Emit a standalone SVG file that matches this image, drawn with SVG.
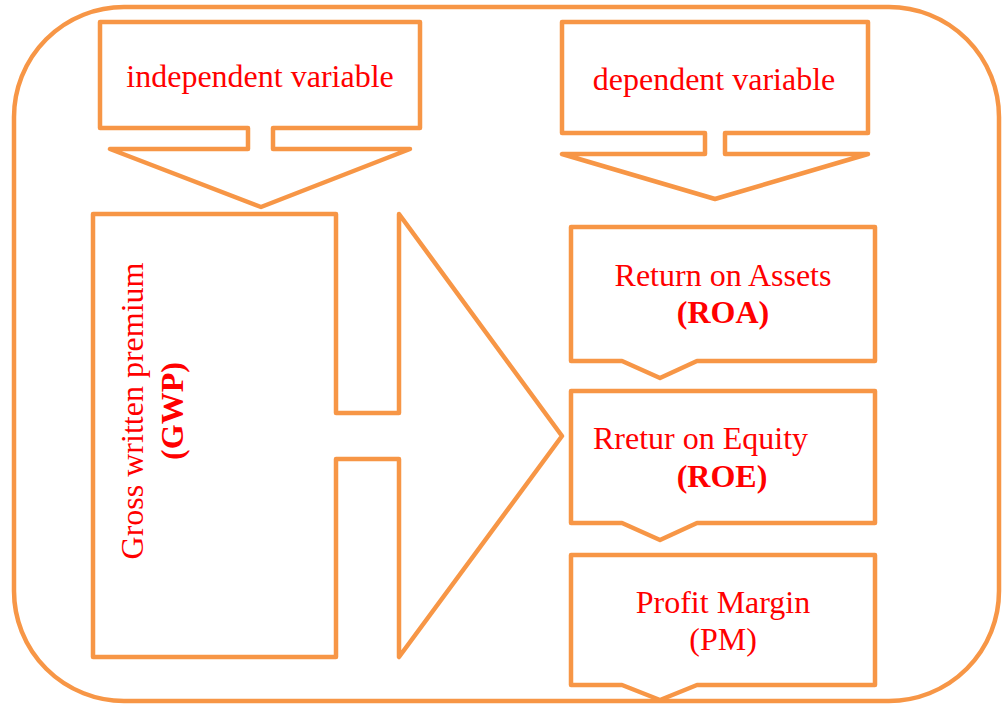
<svg xmlns="http://www.w3.org/2000/svg" width="1002" height="704" viewBox="0 0 1002 704">
<style>
.s{fill:none;stroke:#F79646;stroke-width:4.5;stroke-linejoin:round;stroke-linecap:round}
.t{font-family:"Liberation Serif","Times New Roman",serif;font-size:32px;fill:#FF0000}
.b{font-weight:bold}
</style>
<rect width="1002" height="704" fill="#ffffff"/>
<g id="frame"><rect class="s" x="14" y="7" width="985" height="694" rx="110" ry="110"/></g>
<g id="independent">
<path class="s" d="M100,22 H420 V128 H273 V149 H410 L261,207 L110,149 H248 V128 H100 Z"/>
<text class="t" x="260" y="87" text-anchor="middle">independent variable</text>
</g>
<g id="dependent">
<path class="s" d="M562,22 H868 V133 H725 V154 H868 L715,199 L562,154 H705 V133 H562 Z"/>
<text class="t" x="714" y="90" text-anchor="middle">dependent variable</text>
</g>
<g id="gwp">
<path class="s" d="M93,214 H336 V413 H399 V214 L562,436 L399,657 V459 H336 V657 H93 Z"/>
<text class="t" transform="translate(143,411) rotate(-90)" text-anchor="middle">Gross written premium</text>
<text class="t b" transform="translate(183,411) rotate(-90)" text-anchor="middle">(GWP)</text>
</g>
<g id="roa">
<path class="s" d="M571,227 H875 V361 H697 L660,378 L622,361 H571 Z"/>
<text class="t" x="723" y="286" text-anchor="middle">Return on Assets</text>
<text class="t b" x="723" y="323" text-anchor="middle">(ROA)</text>
</g>
<g id="roe">
<path class="s" d="M571,391 H875 V523 H697 L660,540 L622,523 H571 Z"/>
<text class="t" x="593" y="449">Rretur on Equity</text>
<text class="t b" x="722" y="487" text-anchor="middle">(ROE)</text>
</g>
<g id="pm">
<path class="s" d="M571,555 H875 V685 H697 L660,700 L622,685 H571 Z"/>
<text class="t" x="723" y="613" text-anchor="middle">Profit Margin</text>
<text class="t" x="723" y="650" text-anchor="middle">(PM)</text>
</g>
<g id="connectors"></g>
</svg>
